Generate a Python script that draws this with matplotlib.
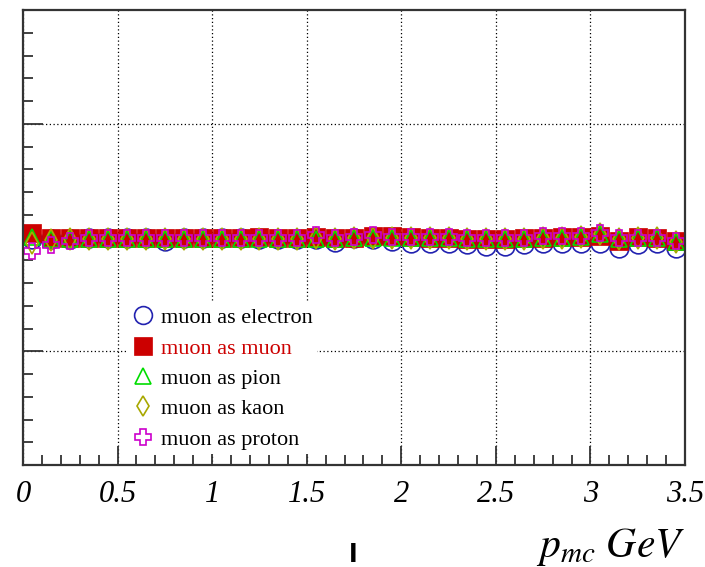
import numpy as np
import matplotlib
matplotlib.use("Agg")
import matplotlib.pyplot as plt
from matplotlib.ticker import MultipleLocator, NullFormatter

plt.rcParams["font.family"] = ["Liberation Serif", "DejaVu Serif"]
plt.rcParams["mathtext.fontset"] = "stix"

# momentum bins, 0.1 GeV wide
p_mc = np.arange(0.05, 3.5, 0.1)

as_electron = [0.496, 0.496, 0.496, 0.498, 0.498, 0.498, 0.498, 0.493, 0.498, 0.498,
               0.498, 0.498, 0.496, 0.496, 0.496, 0.496, 0.491, 0.498, 0.496, 0.493,
               0.489, 0.489, 0.487, 0.485, 0.482, 0.482, 0.485, 0.489, 0.489, 0.487,
               0.489, 0.478, 0.485, 0.487, 0.476]
as_muon = [0.509, 0.500, 0.500, 0.500, 0.500, 0.500, 0.500, 0.500, 0.500, 0.500,
           0.500, 0.500, 0.502, 0.500, 0.500, 0.502, 0.500, 0.500, 0.504, 0.504,
           0.502, 0.500, 0.498, 0.496, 0.496, 0.496, 0.498, 0.500, 0.502, 0.502,
           0.504, 0.493, 0.502, 0.498, 0.493]
as_pion = [0.502, 0.496, 0.496, 0.496, 0.496, 0.496, 0.496, 0.496, 0.496, 0.496,
           0.496, 0.496, 0.496, 0.496, 0.496, 0.496, 0.496, 0.500, 0.500, 0.500,
           0.500, 0.500, 0.500, 0.496, 0.496, 0.496, 0.496, 0.500, 0.500, 0.502,
           0.507, 0.496, 0.498, 0.498, 0.491]
as_kaon = [0.488, 0.494, 0.496, 0.496, 0.496, 0.496, 0.496, 0.496, 0.496, 0.496,
           0.496, 0.496, 0.496, 0.496, 0.496, 0.498, 0.496, 0.500, 0.500, 0.500,
           0.500, 0.500, 0.500, 0.496, 0.496, 0.496, 0.496, 0.500, 0.500, 0.502,
           0.507, 0.496, 0.498, 0.498, 0.491]
as_proton = [0.470, 0.484, 0.492, 0.498, 0.498, 0.498, 0.498, 0.498, 0.498, 0.498,
             0.498, 0.498, 0.498, 0.498, 0.498, 0.505, 0.498, 0.502, 0.505, 0.502,
             0.502, 0.502, 0.502, 0.498, 0.498, 0.498, 0.498, 0.503, 0.503, 0.504,
             0.510, 0.498, 0.500, 0.500, 0.493]

fig = plt.figure(figsize=(7.05, 5.67), dpi=100)
ax = fig.add_axes([23 / 705, 102 / 567, 662 / 705, 455 / 567])

ax.plot(p_mc, as_electron, "o", ms=13.5, mfc="none", mec="#2222b0", mew=1.2,
        ls="none", label="muon as electron")
ax.plot(p_mc, as_muon, "s", ms=13.5, mfc="#cc0000", mec="#cc0000", mew=0.5,
        ls="none", label="muon as muon")
ax.plot(p_mc, as_pion, "^", ms=12, mfc="none", mec="#00dd00", mew=1.2,
        ls="none", label="muon as pion")
ax.plot(p_mc, as_kaon, "d", ms=11, mfc="none", mec="#a8a800", mew=1.2,
        ls="none", label="muon as kaon")
ax.plot(p_mc, as_proton, "P", ms=12, mfc="none", mec="#cc00cc", mew=1.2,
        ls="none", label="muon as proton")

ax.set_xlim(0, 3.5)
ax.set_ylim(0, 1)
ax.xaxis.set_minor_locator(MultipleLocator(0.1))
ax.set_yticks([0.25, 0.75])
ax.yaxis.set_minor_locator(MultipleLocator(0.05))
ax.yaxis.set_major_formatter(NullFormatter())
ax.set_xticks(np.arange(0, 3.51, 0.5))
ax.set_xticklabels(["0", "0.5", "1", "1.5", "2", "2.5", "3", "3.5"],
                   fontsize=22, style="italic")

ax.tick_params(axis="both", which="both", direction="in", top=False, right=False,
               width=1.3, color="#333333")
ax.tick_params(axis="x", which="major", length=14, pad=11)
ax.tick_params(axis="x", which="minor", length=7)
ax.tick_params(axis="y", which="major", length=14.5)
ax.tick_params(axis="y", which="minor", length=7)

ax.grid(True, which="major", color="black", ls=(0, (1, 2)), lw=0.9)
for s in ax.spines.values():
    s.set_linewidth(1.6)
    s.set_color("#333333")

leg = ax.legend(loc="upper left", bbox_to_anchor=(0.141, 0.38), frameon=True,
                facecolor="white", edgecolor="none", framealpha=1, fancybox=False,
                fontsize=16, handletextpad=0.3, labelspacing=0.44,
                borderpad=0.2, handlelength=1.0, markerscale=0.95)
leg.get_texts()[1].set_color("#cc0000")

fig.text(685 / 705, 1 - 557 / 567, r"$p_{mc}\ GeV$", ha="right", va="baseline",
         fontsize=30)
fig.text(353 / 705, 0.0, "l", ha="center", va="bottom", fontsize=18,
         fontweight="bold", family="DejaVu Sans")

fig.savefig("out.png", dpi=100)
